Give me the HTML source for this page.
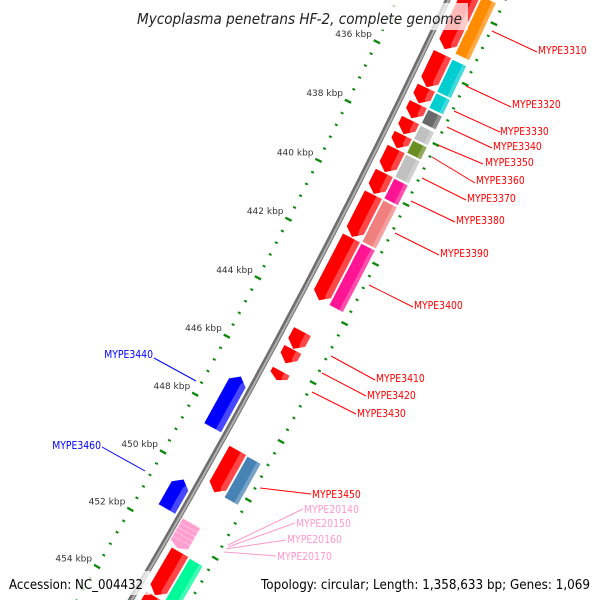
<!DOCTYPE html>
<html><head><meta charset="utf-8"><title>Mycoplasma penetrans HF-2 genome map</title>
<style>
html,body{margin:0;padding:0;background:#fff;width:600px;height:600px;overflow:hidden;}
svg{display:block;overflow:hidden;font-family:"DejaVu Sans","Liberation Sans",sans-serif;}
</style></head>
<body>
<svg id="map" xmlns="http://www.w3.org/2000/svg" width="600" height="600" viewBox="0 0 600 600">
  <rect x="0" y="0" width="600" height="600" fill="#ffffff"/>
  <g id="ticks"></g>
  <g id="backbone"></g>
  <g id="features"></g>
  <g id="labels"></g>
  <rect x="132" y="3" width="336" height="27" fill="#ffffff" fill-opacity="0.72"/>
  <text x="137" y="24" font-size="15" font-style="italic" fill="#222" textLength="325" lengthAdjust="spacingAndGlyphs">Mycoplasma penetrans HF-2, complete genome</text>
  <rect x="4" y="571" width="146" height="24" fill="#ffffff" fill-opacity="0.75"/>
  <text x="9" y="589" font-size="13" fill="#000" textLength="134" lengthAdjust="spacingAndGlyphs">Accession: NC_004432</text>
  <text x="261" y="589" font-size="13" fill="#000" textLength="329" lengthAdjust="spacingAndGlyphs">Topology: circular; Length: 1,358,633 bp; Genes: 1,069</text>
</svg>
<script>
// ---- data (kbp) ----
const fwdStart = [433.4, 435.48, 436.6, 437.15, 437.68, 438.18, 438.65, 439.45, 440.18, 441.63, 444.8, 445.41, 446.15, 448.86, 452.37, 453.9];
const fwdEnd   = [435.32, 436.58, 437.12, 437.62, 438.15, 438.62, 439.42, 440.15, 441.6, 443.74, 445.39, 445.88, 446.45, 450.3, 453.86, 455.5];
const cogStart = [433.4, 435.48, 436.6, 437.15, 437.68, 438.18, 438.65, 439.45, 440.18, 441.63, 448.86, 452.37, 453.9];
const cogEnd   = [435.32, 436.58, 437.12, 437.62, 438.15, 438.62, 439.42, 440.15, 441.6, 443.74, 450.3, 453.86, 455.5];
const cogColor = ["#ff8c00","#00ced1","#00ced1","#696969","#c0c0c0","#6b8e23","#c0c0c0","#ff1493","#f08080","#ff1493","#4682b4","#00fa9a","#00bfff"];
const revStart = [446.87, 450.42];
const revEnd   = [448.63, 451.44];
const rnaStart = [451.45, 451.6, 451.75, 451.9, 452.05];
const rnaEnd   = [451.6, 451.75, 451.9, 452.05, 452.2];
const tickMajor = [436, 438, 440, 442, 444, 446, 448, 450, 452, 454];
const tickLabels = ["436 kbp","438 kbp","440 kbp","442 kbp","444 kbp","446 kbp","448 kbp","450 kbp","452 kbp","454 kbp"];

// ---- geometry ----
const CX = -6063, CY = -3055.5;
const DEG_PER_KBP = 360 / 1358.633;
function theta(k){ return (28.07 + (k - 445) * DEG_PER_KBP) * Math.PI / 180; }
function P(k, R){ const t = theta(k); return [CX + R*Math.cos(t), CY + R*Math.sin(t)]; }
const R_LEFT = 7146, R_BB = 7192, R_RIGHT = 7244;
const REV = [7168, 7187], FWD = [7201, 7220], COG = [7222, 7237], RNA = [7196, 7216];
const NS = "http://www.w3.org/2000/svg";
function mk(tag, attrs, parent){ const e = document.createElementNS(NS, tag); for (const a in attrs) e.setAttribute(a, attrs[a]); parent.appendChild(e); return e; }
function pts(list){ return list.map(p => p[0].toFixed(1)+","+p[1].toFixed(1)).join(" "); }
function band(k1, k2, r1, r2){
  const a = []; const n = Math.max(2, Math.ceil((k2-k1)/0.25));
  for (let i=0;i<=n;i++) a.push(P(k1+(k2-k1)*i/n, r1));
  for (let i=n;i>=0;i--) a.push(P(k1+(k2-k1)*i/n, r2));
  return a;
}

// ---- ticks ----
const tg = document.getElementById('ticks');
for (let i = -7; i <= 48; i++) {
  const k = 436 + i * 0.4;
  const major = Math.abs((k/2) - Math.round(k/2)) < 1e-6;
  const half = major ? 3.5 : 1.5;
  [R_LEFT, R_RIGHT].forEach((R, side) => {
    const a = P(k, R - half), b = P(k, R + half);
    const ln = mk('line', {x1:a[0], y1:a[1], x2:b[0], y2:b[1], stroke:'#0f8a0f', 'stroke-width': major ? 2.4 : 2}, tg);
    
    
  });
}
tickMajor.forEach((k, i) => {
  const d = P(k, R_LEFT);
  const t = mk('text', {x:(d[0]-5).toFixed(1), y:(d[1]-5).toFixed(1), 'font-size':9, fill:'#333', 'text-anchor':'end'}, tg);
  
  
  t.textContent = tickLabels[i];
});

// ---- backbone ----
const bg = document.getElementById('backbone');
const bbPts = []; for (let k = 430; k <= 458; k += 0.5) bbPts.push(P(k, R_BB));
const bb1 = mk('polyline', {points: pts(bbPts), fill:'none', stroke:'#6e6e6e', 'stroke-width':5.5}, bg);


const bbPts2 = []; for (let k = 430; k <= 458; k += 0.5) bbPts2.push(P(k, R_BB + 0.8));
const bb2 = mk('polyline', {points: pts(bbPts2), fill:'none', stroke:'#b0b0b0', 'stroke-width':2}, bg);



// ---- features ----
const fg = document.getElementById('features');
function arrow(k1, k2, r, forward){
  const h = Math.min(0.22, (k2-k1)*0.5), rm = (r[0]+r[1])/2;
  if (forward) return [P(k1, r[0]), P(k2-h, r[0]), P(k2, rm), P(k2-h, r[1]), P(k1, r[1])];
  return [P(k2, r[0]), P(k1+h, r[0]), P(k1, rm), P(k1+h, r[1]), P(k2, r[1])];
}
fwdStart.forEach((s, i) => {
  const e = fwdEnd[i];
  const poly = mk('polygon', {points: pts(arrow(s, e, FWD, true)), fill:'#ff0000'}, fg);
  
  
  const hl = mk('polygon', {points: pts(arrow(s, e, [FWD[0]+13, FWD[1]], true)), fill:'#ffffff', 'fill-opacity':0.28}, fg);
  
  
});
cogStart.forEach((s, i) => {
  const e = cogEnd[i];
  const poly = mk('polygon', {points: pts(band(s+0.02, e-0.02, COG[0], COG[1])), fill: cogColor[i]}, fg);
  
  
  const hl = mk('polygon', {points: pts(band(s+0.02, e-0.02, COG[1]-4, COG[1])), fill:'#ffffff', 'fill-opacity':0.25}, fg);
  
  
});
revStart.forEach((s, i) => {
  const e = revEnd[i];
  const poly = mk('polygon', {points: pts(arrow(s, e, REV, false)), fill:'#0000ff'}, fg);
  
  
  const hl = mk('polygon', {points: pts(arrow(s, e, [REV[0]+13, REV[1]], false)), fill:'#ffffff', 'fill-opacity':0.28}, fg);
  
  
});
rnaStart.forEach((s, i) => {
  const e = rnaEnd[i];
  const poly = mk('polygon', {points: pts(arrow(s, e + 0.1, RNA, true)), fill:'#ff9ecf', stroke:'#ffc8e4', 'stroke-width':0.8}, fg);
  
  
});

// ---- labels (layout) ----
const labelText = ["MYPE3310","MYPE3320","MYPE3330","MYPE3340","MYPE3350","MYPE3360","MYPE3370","MYPE3380","MYPE3390","MYPE3400","MYPE3410","MYPE3420","MYPE3430","MYPE3450","MYPE20140","MYPE20150","MYPE20160","MYPE20170","MYPE3440","MYPE3460"];
const labelLayout = [
 [492,31,537,52,538,54,'#ff0000','start'],[466,86,511,107,512,108,'#ff0000','start'],
 [454,111,500,132,500,135,'#ff0000','start'],[447,127,492,148,493,150,'#ff0000','start'],
 [438,145,483,164,485,166,'#ff0000','start'],[432,157,475,183,476,184,'#ff0000','start'],
 [422,178,466,200,467,202,'#ff0000','start'],[411,201,455,222,456,224,'#ff0000','start'],
 [395,233,439,255,440,257,'#ff0000','start'],[369,285,413,307,414,309,'#ff0000','start'],
 [331,356,375,380,376,382,'#ff0000','start'],[322,373,366,396,367,399,'#ff0000','start'],
 [312,392,356,414,357,417,'#ff0000','start'],[260,488,311,494,312,498,'#ff0000','start'],
 [228,545,303,509,304,513,'#ff99cc','start'],[228,547,295,523,296,527,'#ff99cc','start'],
 [226,549,286,540,287,543,'#ff99cc','start'],[224,552,276,556,277,560,'#ff99cc','start'],
 [196,381,154,358,153,358,'#0000ff','end'],[145,471,102,447,101,449,'#0000ff','end']
];
const lg = document.getElementById('labels');
labelLayout.forEach((L, i) => {
  const ln = mk('line', {x1:L[0], y1:L[1], x2:L[2], y2:L[3], stroke:L[6], 'stroke-width':1}, lg);
  
  
  const t = mk('text', {x:L[4], y:L[5], 'font-size':11, fill:L[6], 'text-anchor':L[7], textLength:(6.1*labelText[i].length).toFixed(1), lengthAdjust:'spacingAndGlyphs'}, lg);
  
  
  t.textContent = labelText[i];
});
</script>
</body></html>
